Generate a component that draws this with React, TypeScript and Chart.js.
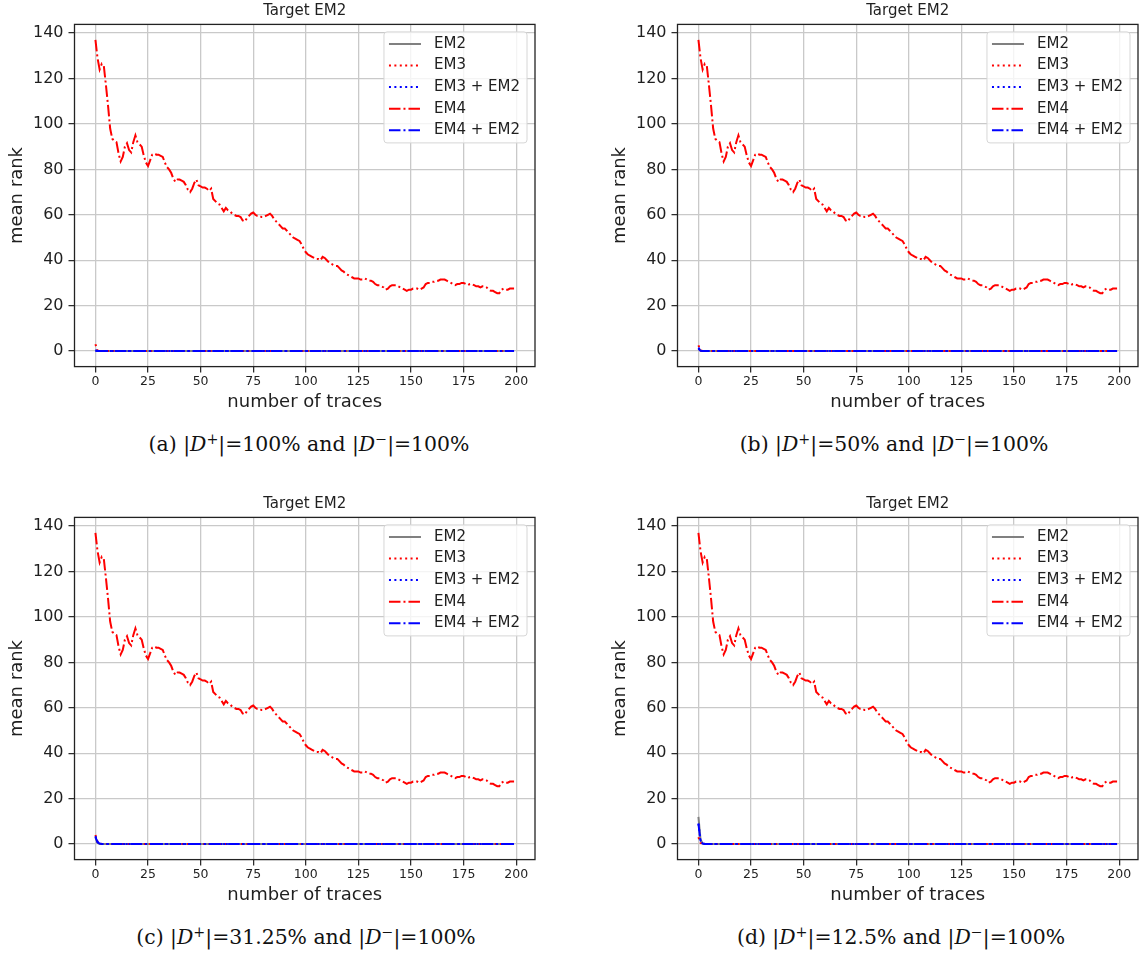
import React, { useEffect, useRef } from 'react';
import { Chart, registerables } from 'chart.js';

Chart.register(...registerables);

// ---------- data ----------
const xTickValues = [0, 25, 50, 75, 100, 125, 150, 175, 200];
const yTickValues = [0, 20, 40, 60, 80, 100, 120, 140];
const seriesNames = ['EM2', 'EM3', 'EM3 + EM2', 'EM4', 'EM4 + EM2'];
const lastTrace = 199;

// EM4 mean rank for traces 0..199 (same curve in all four panels)
const em4Rank = [
  137, 129, 124, 126.5, 125.5, 117, 108, 98, 93.5, 92.5,
  92, 87, 83.5, 85.5, 90, 91.5, 88.5, 87.5, 92, 95,
  92, 91, 90, 86, 83, 81.5, 84, 86.5, 87, 86.5,
  86.5, 86, 85.5, 83, 81, 80, 78.5, 76, 74.5, 75.5,
  75.5, 75, 74.5, 73, 71, 70, 71.5, 74, 75.5, 73,
  72.5, 72, 72, 71.5, 70.5, 71.5, 67, 66, 65, 64.5,
  63, 61.5, 63, 62, 61.5, 60.5, 60, 59.5, 59.5, 59,
  57.5, 57, 58.5, 59.5, 60.5, 61, 60, 59.5, 59.5, 59,
  59, 59.5, 60, 60.5, 59.5, 58, 57, 56, 55, 54,
  54, 53, 52, 51, 50, 49.5, 49, 48.5, 47, 45,
  43.5, 42.5, 42, 41.5, 41, 40.5, 40.5, 40, 41.5, 41,
  40, 39, 38.5, 38, 37.5, 37.5, 36.5, 35.5, 35, 34,
  33.5, 33, 32.5, 32, 32, 32, 31.5, 31.5, 32, 31.5,
  31, 31, 30.5, 29.5, 29, 29, 28.5, 28, 27, 27.5,
  28.5, 29, 29, 29, 28.5, 28, 27.5, 27, 26.5, 27,
  27, 27.5, 27.5, 27.5, 27, 27.5, 28, 29.5, 30, 30,
  30.5, 30.5, 31, 31, 31.5, 31.5, 31.5, 31, 30.5, 30,
  29.5, 29, 29.5, 29.5, 30, 30, 29.5, 29, 29.5, 29.5,
  29, 28.5, 28.5, 28, 28.5, 28.5, 28, 27, 26.5, 26.5,
  26, 25.5, 25.5, 27, 27.5, 27, 27, 27.5, 27.5, 27.5,
];

// Leading values of the low series (traces 0,1,2,...); they stay at 0 afterwards
const em2HeadA = [0.3, 0];
const em3HeadA = [3, 0.2, 0];
const em3em2HeadA = [0.2, 0];
const em4em2HeadA = [0.2, 0];

const em2HeadB = [1, 0.2, 0];
const em3HeadB = [2.5, 0.3, 0];
const em3em2HeadB = [1.5, 0.2, 0];
const em4em2HeadB = [1, 0.1, 0];

const em2HeadC = [3, 0.5, 0];
const em3HeadC = [4, 1, 0.3, 0];
const em3em2HeadC = [3.5, 1, 0.2, 0];
const em4em2HeadC = [3, 0.8, 0.2, 0];

const em2HeadD = [12, 2, 0.3, 0];
const em3HeadD = [3, 0.5, 0];
const em3em2HeadD = [9, 1.5, 0.3, 0];
const em4em2HeadD = [9, 1.2, 0.2, 0];

const captionLetters = ['(a)', '(b)', '(c)', '(d)'];
const dPlusValues = ['100%', '50%', '31.25%', '12.5%'];
const dMinusValues = ['100%', '100%', '100%', '100%'];

// ---------- styling ----------
const FONT = 'DejaVu Sans';
const TEXT = '#1f1f1f';
const GRID = '#c9c9c9';
const LW = 2;
const DOT = [2, 3.4];
const DASHDOT = [11.5, 3, 2, 3];
const seriesStyles = [
  { color: '#808080', dash: [] as number[] },
  { color: '#ff0000', dash: DOT },
  { color: '#0000ff', dash: DOT },
  { color: '#ff0000', dash: DASHDOT },
  { color: '#0000ff', dash: DASHDOT },
];

const CANVAS_W = 537;
const CANVAS_H = 415;

const panels = [
  { left: 0, top: 0, heads: [em2HeadA, em3HeadA, em3em2HeadA, em4em2HeadA], capX: 309, capY: 444 },
  { left: 603, top: 0, heads: [em2HeadB, em3HeadB, em3em2HeadB, em4em2HeadB], capX: 894, capY: 444 },
  { left: 0, top: 493, heads: [em2HeadC, em3HeadC, em3em2HeadC, em4em2HeadC], capX: 306, capY: 937 },
  { left: 603, top: 493, heads: [em2HeadD, em3HeadD, em3em2HeadD, em4em2HeadD], capX: 901, capY: 937 },
];

function lowSeries(head: number[]) {
  const pts = head.map((v, i) => ({ x: i, y: v }));
  pts.push({ x: lastTrace, y: 0 });
  return pts;
}

const framePlugin = {
  id: 'mplFrame',
  afterDraw(chart: any) {
    const { ctx, chartArea: a } = chart;
    ctx.save();
    // title
    ctx.fillStyle = TEXT;
    ctx.font = `15px "${FONT}"`;
    ctx.textAlign = 'center';
    ctx.textBaseline = 'middle';
    ctx.fillText('Target EM2', (a.left + a.right) / 2, 11);
    // frame
    ctx.strokeStyle = '#222';
    ctx.lineWidth = 1.3;
    ctx.strokeRect(a.left, a.top, a.right - a.left, a.bottom - a.top);
    // legend
    ctx.font = `15px "${FONT}"`;
    let maxW = 0;
    seriesNames.forEach((n) => { maxW = Math.max(maxW, ctx.measureText(n).width); });
    const padL = 5, lineLen = 32, gap = 13, padR = 7, rowH = 21.6, padT = 12, padB = 12.6;
    const w = padL + lineLen + gap + maxW + padR;
    const h = padT + rowH * (seriesNames.length - 1) + padB;
    const x0 = a.right - 8 - w;
    const y0 = a.top + 7.5;
    ctx.beginPath();
    const r = 3;
    ctx.moveTo(x0 + r, y0);
    ctx.arcTo(x0 + w, y0, x0 + w, y0 + h, r);
    ctx.arcTo(x0 + w, y0 + h, x0, y0 + h, r);
    ctx.arcTo(x0, y0 + h, x0, y0, r);
    ctx.arcTo(x0, y0, x0 + w, y0, r);
    ctx.closePath();
    ctx.fillStyle = 'rgba(255,255,255,0.8)';
    ctx.fill();
    ctx.strokeStyle = '#d6d6d6';
    ctx.lineWidth = 1;
    ctx.stroke();
    seriesNames.forEach((n, i) => {
      const yy = y0 + padT + i * rowH;
      const st = seriesStyles[i];
      ctx.beginPath();
      ctx.setLineDash(st.dash);
      ctx.strokeStyle = st.color;
      ctx.lineWidth = LW;
      ctx.moveTo(x0 + padL, yy);
      ctx.lineTo(x0 + padL + lineLen, yy);
      ctx.stroke();
      ctx.setLineDash([]);
      ctx.fillStyle = TEXT;
      ctx.textAlign = 'left';
      ctx.textBaseline = 'middle';
      ctx.fillText(n, x0 + padL + lineLen + gap, yy);
    });
    ctx.restore();
  },
};

function Panel({ heads }: { heads: number[][] }) {
  const ref = useRef<HTMLCanvasElement | null>(null);
  useEffect(() => {
    if (!ref.current) return;
    const dataArrays = [
      lowSeries(heads[0]),
      lowSeries(heads[1]),
      lowSeries(heads[2]),
      em4Rank.map((v, i) => ({ x: i, y: v })),
      lowSeries(heads[3]),
    ];
    const chart = new Chart(ref.current, {
      type: 'line',
      data: {
        datasets: dataArrays.map((d, i) => ({
          label: seriesNames[i],
          data: d,
          borderColor: seriesStyles[i].color,
          borderDash: seriesStyles[i].dash,
          borderWidth: LW,
          pointRadius: 0,
          tension: 0,
          fill: false,
          order: seriesNames.length - i,
        })),
      },
      options: {
        responsive: false,
        animation: false,
        events: [],
        layout: { padding: { top: 24.4, left: 0, right: 2, bottom: 0 } },
        plugins: {
          legend: { display: false },
          tooltip: { enabled: false },
          title: { display: false },
        },
        scales: {
          x: {
            type: 'linear',
            min: -9.95,
            max: 208.95,
            afterBuildTicks: (s: any) => { s.ticks = xTickValues.map((v) => ({ value: v })); },
            afterFit: (s: any) => { s.height = 48.4; },
            grid: { color: GRID, lineWidth: 1.3, tickLength: 6, tickColor: '#222', tickWidth: 1.2 },
            border: { display: false },
            ticks: { font: { family: FONT, size: 12.5 }, color: TEXT, padding: 2, maxRotation: 0, autoSkip: false },
            title: { display: true, text: 'number of traces', font: { family: FONT, size: 18 }, color: TEXT, padding: { top: 0, bottom: 2 } },
          },
          y: {
            type: 'linear',
            min: -6.85,
            max: 143.85,
            afterBuildTicks: (s: any) => { s.ticks = yTickValues.map((v) => ({ value: v })); },
            afterFit: (s: any) => { s.width = 74.5; },
            grid: { color: GRID, lineWidth: 1.3, tickLength: 6, tickColor: '#222', tickWidth: 1.2 },
            border: { display: false },
            ticks: { font: { family: FONT, size: 16 }, color: TEXT, padding: 5, autoSkip: false },
            title: { display: true, text: 'mean rank', font: { family: FONT, size: 18 }, color: TEXT, padding: { top: 7, bottom: 0 } },
          },
        },
      },
      plugins: [framePlugin],
    } as any);
    return () => chart.destroy();
  }, [heads]);
  return <canvas ref={ref} width={CANVAS_W} height={CANVAS_H} style={{ width: CANVAS_W, height: CANVAS_H, display: 'block' }} />;
}

function Caption({ idx }: { idx: number }) {
  const sup: React.CSSProperties = { fontSize: '0.7em', position: 'relative', top: '-0.5em' };
  return (
    <span>
      {captionLetters[idx]} |<i>D</i><span style={sup}>+</span>|={dPlusValues[idx]} and |<i>D</i><span style={sup}>−</span>|={dMinusValues[idx]}
    </span>
  );
}

export default function App() {
  return (
    <div style={{ position: 'absolute', left: 0, top: 0, width: 1140, height: 955, background: '#fff', overflow: 'hidden' }}>
      {panels.map((p, i) => (
        <React.Fragment key={i}>
          <div style={{ position: 'absolute', left: p.left, top: p.top }}>
            <Panel heads={p.heads} />
          </div>
          <div
            style={{
              position: 'absolute',
              left: p.capX,
              top: p.capY,
              transform: 'translate(-50%, -50%)',
              whiteSpace: 'nowrap',
              fontFamily: '"DejaVu Serif"',
              fontSize: 20.4,
              lineHeight: 1,
              color: '#111',
            }}
          >
            <Caption idx={i} />
          </div>
        </React.Fragment>
      ))}
    </div>
  );
}
